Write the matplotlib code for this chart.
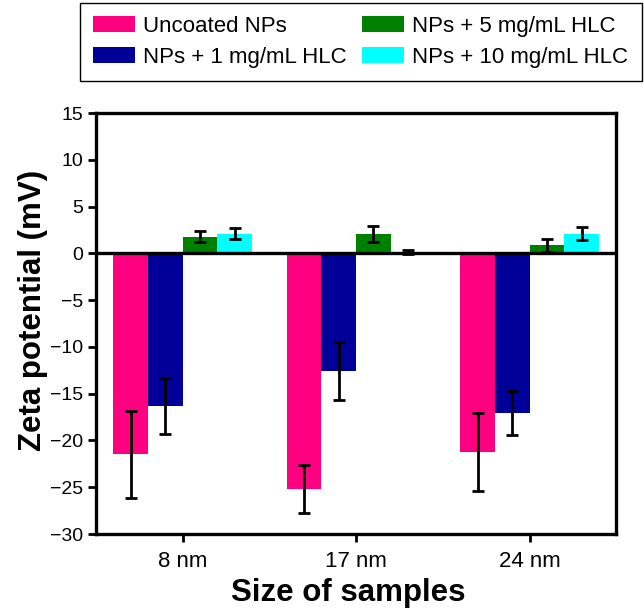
import numpy as np
import matplotlib
matplotlib.use('Agg')
import matplotlib.pyplot as plt

plt.rcParams['font.family'] = ['Liberation Sans', 'DejaVu Sans']

# data
sizes = ['8 nm', '17 nm', '24 nm']
series = ['Uncoated NPs', 'NPs + 1 mg/mL HLC', 'NPs + 5 mg/mL HLC', 'NPs + 10 mg/mL HLC']
colors = ['#FF0080', '#000099', '#008000', '#00FFFF']

uncoated = [-21.5, -25.2, -21.2]
uncoated_err = [4.7, 2.55, 4.15]
hlc1 = [-16.3, -12.6, -17.1]
hlc1_err = [3.0, 3.1, 2.35]
hlc5 = [1.8, 2.1, 0.85]
hlc5_err = [0.6, 0.85, 0.7]
hlc10 = [2.1, 0.15, 2.1]
hlc10_err = [0.6, 0.25, 0.7]

values = [uncoated, hlc1, hlc5, hlc10]
errors = [uncoated_err, hlc1_err, hlc5_err, hlc10_err]

fig = plt.figure(figsize=(6.44, 6.11), dpi=100)
ax = fig.add_axes([0.149, 0.126, 0.808, 0.689])

x = np.arange(len(sizes))
w = 0.2
offsets = [-1.5 * w, -0.5 * w, 0.5 * w, 1.5 * w]
for vals, errs, col, lab, off in zip(values, errors, colors, series, offsets):
    ax.bar(x + off, vals, w, color=col, label=lab, zorder=2)
    ax.errorbar(x + off, vals, yerr=errs, fmt='none', ecolor='black',
                elinewidth=2, capsize=4, capthick=2, zorder=3)

ax.axhline(0, color='black', lw=2.4, zorder=4)

ax.set_xlim(-0.5, 2.5)
ax.set_ylim(-30, 15)
ax.set_yticks(np.arange(-30, 16, 5))
ax.set_yticklabels([str(t).replace('-', '\u2212') for t in range(-30, 16, 5)])
ax.set_xticks(x)
ax.set_xticklabels(sizes)
for s in ax.spines.values():
    s.set_linewidth(2.4)
ax.tick_params(axis='both', width=2, length=6)
ax.tick_params(axis='y', labelsize=14, pad=3)
ax.tick_params(axis='x', labelsize=16, pad=6)

ax.set_xlabel('Size of samples', fontsize=22.5, fontweight='bold')
ax.xaxis.set_label_coords(0.485, -0.104)
ax.set_ylabel('Zeta potential (mV)', fontsize=22.5, fontweight='bold')
ax.yaxis.set_label_coords(-0.092, 0.53)

fig.legend(loc='upper right', bbox_to_anchor=(1.0, 0.999), ncol=2,
           fontsize=16, frameon=True, fancybox=False, edgecolor='black',
           handlelength=1.9, handleheight=0.72, columnspacing=0.68,
           borderpad=0.6, labelspacing=0.45, handletextpad=0.36,
           borderaxespad=0.1, framealpha=1)

fig.savefig('out.png', dpi=100)
